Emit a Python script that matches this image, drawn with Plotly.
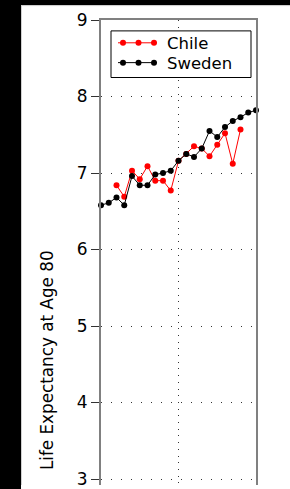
import plotly.graph_objects as go

years = list(range(1960, 1981))
sweden = [6.58, 6.61, 6.68, 6.58, 6.96, 6.84, 6.84, 6.98, 7.00, 7.03, 7.16,
          7.25, 7.21, 7.32, 7.55, 7.47, 7.60, 7.68, 7.73, 7.79, 7.82]
chile_years = years[2:19]
chile = [6.84, 6.69, 7.03, 6.92, 7.09, 6.90, 6.90, 6.77, 7.16, 7.25, 7.35,
         7.32, 7.22, 7.37, 7.52, 7.12, 7.57]
y_ticks = [3, 4, 5, 6, 7, 8, 9]
series_names = ["Chile", "Sweden"]
series_colors = ["#ff0000", "#000000"]

W, H = 290, 489
L, R, T, B = 101, 34, 20, 0
pw, ph = W - L - R, H - T - B

def px(x):
    return (x - L) / pw

def py(y):
    return (H - B - y) / ph

FONT = "DejaVu Sans"

fig = go.Figure()
fig.add_trace(go.Scatter(x=chile_years, y=chile, mode="lines+markers",
                         line=dict(color=series_colors[0], width=1),
                         marker=dict(color=series_colors[0], size=6, symbol="circle"),
                         cliponaxis=False, showlegend=False, name=series_names[0]))
fig.add_trace(go.Scatter(x=years, y=sweden, mode="lines+markers",
                         line=dict(color=series_colors[1], width=1),
                         marker=dict(color=series_colors[1], size=6, symbol="circle"),
                         cliponaxis=False, showlegend=False, name=series_names[1]))

shapes = []
# black frame strips (left and top)
shapes.append(dict(type="rect", xref="paper", yref="paper", x0=px(-5), x1=px(21), y0=py(H + 5), y1=py(-5),
                   fillcolor="black", line=dict(width=0), layer="above"))
shapes.append(dict(type="rect", xref="paper", yref="paper", x0=px(-5), x1=px(W + 5), y0=py(5), y1=py(-5),
                   fillcolor="black", line=dict(width=0), layer="above"))
shapes.append(dict(type="line", xref="paper", yref="paper", x0=px(21.5), x1=px(21.5), y0=py(H), y1=py(5),
                   line=dict(color="#d0d0d0", width=1), layer="above"))
shapes.append(dict(type="line", xref="paper", yref="paper", x0=px(21), x1=px(W), y0=py(5.5), y1=py(5.5),
                   line=dict(color="#d0d0d0", width=1), layer="above"))

# legend box
shapes.append(dict(type="rect", xref="paper", yref="paper", x0=px(111), x1=px(251), y0=py(78), y1=py(31),
                   fillcolor="white", line=dict(color="black", width=1), layer="above"))
rows = [43, 63]
annotations = []
for name, col, ry in zip(series_names, series_colors, rows):
    shapes.append(dict(type="line", xref="paper", yref="paper", x0=px(118), x1=px(157), y0=py(ry), y1=py(ry),
                       line=dict(color=col, width=1), layer="above"))
    for mx in (123, 138.5, 154):
        shapes.append(dict(type="circle", xref="paper", yref="paper", xsizemode="pixel", ysizemode="pixel",
                           xanchor=px(mx), yanchor=py(ry), x0=-3, x1=3, y0=-3, y1=3,
                           fillcolor=col, line=dict(width=0), layer="above"))
    annotations.append(dict(xref="paper", yref="paper", x=px(165), y=py(ry + 1), text=name,
                            showarrow=False, xanchor="left", yanchor="middle",
                            font=dict(family=FONT, size=16.5, color="black")))

annotations.append(dict(xref="paper", yref="paper", x=px(47), y=py(363), text="Life Expectancy at Age 80",
                        textangle=-90, showarrow=False, xanchor="center", yanchor="middle",
                        font=dict(family=FONT, size=16.8, color="black")))

fig.update_layout(
    width=W, height=H,
    margin=dict(l=L, r=R, t=T, b=B, pad=0),
    paper_bgcolor="white", plot_bgcolor="white",
    showlegend=False,
    shapes=shapes, annotations=annotations,
    font=dict(family=FONT, color="black"),
)
fig.update_xaxes(range=[years[0], years[-1]], tick0=years[0], dtick=10,
                 showticklabels=False, ticks="", side="top",
                 showgrid=True, gridcolor="#333333", gridwidth=1, griddash="1px,5.7px",
                 showline=True, linecolor="#808080", linewidth=2, mirror=False, zeroline=False)
fig.update_yaxes(range=[3 - 6 / 77.17, 9], tickvals=y_ticks, ticktext=[str(v) for v in y_ticks],
                 ticks="outside", ticklen=8, tickcolor="#333333", tickwidth=1,
                 tickfont=dict(family=FONT, size=17, color="black"),
                 ticklabeloverflow="allow",
                 showgrid=True, gridcolor="#333333", gridwidth=1, griddash="1px,9px",
                 showline=True, linecolor="#808080", linewidth=2, mirror=True, zeroline=False)

fig.write_html("out.html", config={"displayModeBar": False},
               post_script="document.body.style.margin='0';document.body.style.overflow='hidden';")
